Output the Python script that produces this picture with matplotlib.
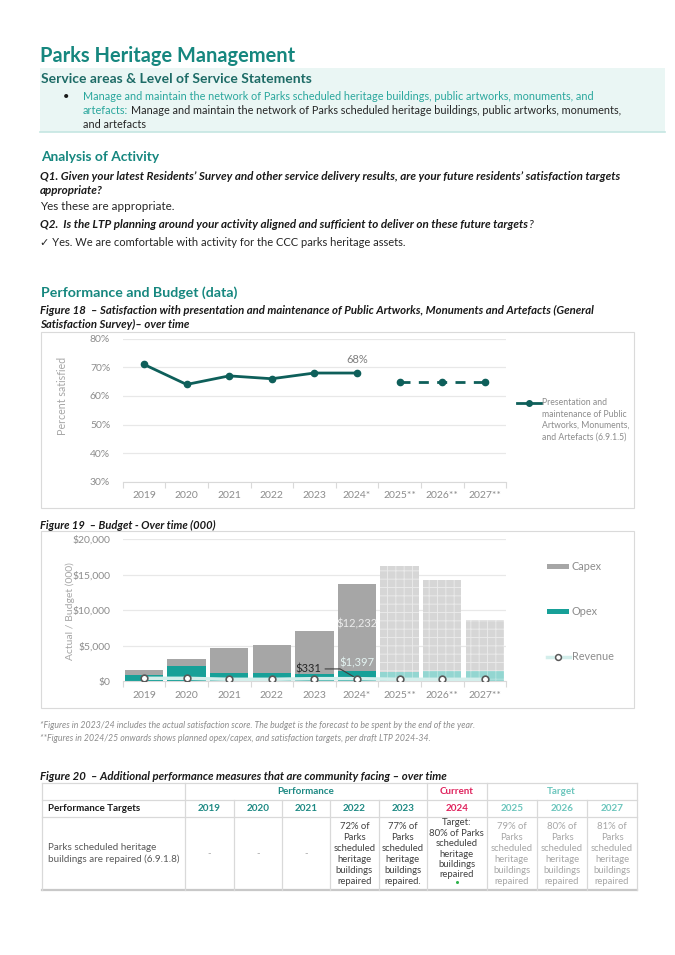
import matplotlib
matplotlib.use('Agg')
import matplotlib.pyplot as plt
from matplotlib.patches import Rectangle
from matplotlib.lines import Line2D

FONT = ['Lato', 'DejaVu Sans']
plt.rcParams['font.family'] = FONT
plt.rcParams['hatch.linewidth'] = 0.7

# ---------------- data ----------------
years = ['2019', '2020', '2021', '2022', '2023', '2024*', '2025**', '2026**', '2027**']
sat_actual = [71, 64, 67, 66, 68, 68]          # 2019 - 2024*
sat_target = [65, 65, 65]                      # 2025** - 2027**
sat_ticks = [30, 40, 50, 60, 70, 80]

capex = [650, 1000, 3450, 3870, 6050, 12232, 14900, 12850, 7240]
opex = [900, 2100, 1150, 1150, 950, 1397, 1310, 1370, 1350]
revenue = [380, 380, 240, 240, 330, 331, 240, 240, 240]
budget_ticks = [0, 5000, 10000, 15000, 20000]
n_actual = 6

tbl_years = ['2019', '2020', '2021', '2022', '2023', '2024', '2025', '2026', '2027']
tbl_values = ['-', '-', '-',
              '72% of\nParks\nscheduled\nheritage\nbuildings\nrepaired',
              '77% of\nParks\nscheduled\nheritage\nbuildings\nrepaired.',
              'Target:\n80% of Parks\nscheduled\nheritage\nbuildings\nrepaired',
              '79% of\nParks\nscheduled\nheritage\nbuildings\nrepaired',
              '80% of\nParks\nscheduled\nheritage\nbuildings\nrepaired',
              '81% of\nParks\nscheduled\nheritage\nbuildings\nrepaired']
tbl_measure = 'Parks scheduled heritage\nbuildings are repaired (6.9.1.8)'

# ---------------- page ----------------
W, H = 675, 955
fig = plt.figure(figsize=(6.75, 9.55), dpi=100)
page = fig.add_axes([0, 0, 1, 1])
page.set_xlim(0, W)
page.set_ylim(H, 0)
page.axis('off')
R = fig.canvas.get_renderer()

TEAL = '#16877f'
TEAL_D = '#1d6b66'
TEAL_L = '#2aa79d'
GRAY = '#8c8c8c'
DARK = '#1a1a1a'


def fit(x, y, s, w, rotation=0, **kw):
    t = page.text(x, y, s, fontsize=10, va='center', ha='left', **kw)
    bb = t.get_window_extent(R)
    t.set_fontsize(10 * w / bb.width)
    if rotation:
        t.set_rotation(rotation)
        t.set_ha('center')
    return t


def right_of(t):
    bb = t.get_window_extent(R)
    return bb.x1


def rect(x0, y0, x1, y1):
    return [x0 / W, 1 - y1 / H, (x1 - x0) / W, (y1 - y0) / H]


# title
fit(40, 56, 'Parks Heritage Management', 255, color=TEAL, fontweight='bold')

# service box
page.add_patch(Rectangle((40, 68), 625, 64, facecolor='#eaf6f4', edgecolor='none', zorder=0))
page.plot([40, 665], [132, 132], color='#c5e6e2', lw=1.2)
fit(41, 79, 'Service areas & Level of Service Statements', 272, color=TEAL_D, fontweight='bold')
page.text(66, 96, '\u2022', fontsize=8, va='center', ha='center', color=DARK)
t1 = fit(83, 96, 'Manage and maintain the network of Parks scheduled heritage buildings, public artworks, monuments, and',
         506, color=TEAL_L)
fs = t1.get_fontsize()
ta = page.text(83, 111, 'artefacts:', fontsize=fs, va='center', ha='left', color=TEAL_L)
page.text(right_of(ta) + 3, 111,
          'Manage and maintain the network of Parks scheduled heritage buildings, public artworks, monuments,',
          fontsize=fs, va='center', ha='left', color='#262626')
page.text(83, 125, 'and artefacts', fontsize=fs, va='center', ha='left', color='#262626')

# analysis
fit(41, 157, 'Analysis of Activity', 118, color=TEAL, fontweight='bold')
q1 = fit(40, 176, 'Q1. Given your latest Residents\u2019 Survey and other service delivery results, are your future residents\u2019 satisfaction targets',
         578, color=DARK, fontweight='bold', style='italic')
qfs = q1.get_fontsize()
page.text(40, 191, 'appropriate?', fontsize=qfs, va='center', ha='left', color=DARK, fontweight='bold', style='italic')
page.text(40, 206, 'Yes these are appropriate.', fontsize=qfs, va='center', ha='left', color='#262626')
q2 = page.text(40, 224, 'Q2.  Is the LTP planning around your activity aligned and sufficient to deliver on these future targets',
               fontsize=qfs, va='center', ha='left', color=DARK, fontweight='bold', style='italic')
page.text(right_of(q2) + 0.5, 224, '?', fontsize=qfs, va='center', ha='left', color=DARK, style='italic')
page.text(40, 242, '\u2713 Yes. We are comfortable with activity for the CCC parks heritage assets.',
          fontsize=qfs * 0.96, va='center', ha='left', color='#262626')

# performance and budget
fit(41, 293, 'Performance and Budget (data)', 197, color=TEAL, fontweight='bold')
c1 = fit(40, 310, 'Figure 18  \u2013 Satisfaction with presentation and maintenance of Public Artworks, Monuments and Artefacts (General',
         557, color=DARK, fontweight='bold', style='italic')
cfs = c1.get_fontsize()
page.text(40, 324, 'Satisfaction Survey)\u2013 over time', fontsize=cfs, va='center', ha='left', color=DARK,
          fontweight='bold', style='italic')

# frames
page.add_patch(Rectangle((40.5, 331.7), 593.8, 176, fill=False, edgecolor='#dadada', lw=0.8))
page.add_patch(Rectangle((40.5, 531), 593.8, 177, fill=False, edgecolor='#dadada', lw=0.8))

LINE_C = '#0e5f5a'
CAPEX_C = '#a6a6a6'
OPEX_C = '#17a098'
CAPEX_F = '#d6d6d6'
OPEX_F = '#93d6d1'

x0, x1 = 122.7, 506.1
TICK_FS = 7.5


def style_axis(ax, ticks, labels):
    ax.set_facecolor('none')
    for s in ['top', 'right', 'left']:
        ax.spines[s].set_visible(False)
    ax.spines['bottom'].set_color('#d9d9d9')
    ax.set_xlim(-0.5, len(years) - 0.5)
    ax.set_xticks(range(len(years)))
    ax.set_xticklabels(years)
    ax.set_xticks([i - 0.5 for i in range(len(years) + 1)], minor=True)
    ax.tick_params(axis='x', which='major', length=0, labelsize=TICK_FS, labelcolor=GRAY, pad=7)
    ax.tick_params(axis='x', which='minor', length=4, color='#d9d9d9', width=0.8)
    ax.set_yticks(ticks)
    ax.set_yticklabels(labels)
    ax.tick_params(axis='y', length=0, labelsize=TICK_FS, labelcolor=GRAY, pad=9)
    ax.grid(axis='y', color='#e8e8e8', lw=0.9)
    ax.set_axisbelow(True)


# ---- Figure 18: line chart ----
ax1 = fig.add_axes(rect(x0, 338.7, x1, 481.7))
ax1.set_ylim(30, 80)
style_axis(ax1, sat_ticks, ['%d%%' % v for v in sat_ticks])
ax1.plot(range(n_actual), sat_actual, color=LINE_C, lw=2, marker='o', ms=4.5, solid_capstyle='round')
ax1.plot(range(n_actual, len(years)), sat_target, color=LINE_C, lw=2, marker='o', ms=4.5,
         dashes=(3.6, 3.0))
ax1.annotate('%d%%' % sat_actual[-1], (n_actual - 1, sat_actual[-1]), xytext=(0, 10), textcoords='offset points',
             ha='center', va='center', fontsize=8, color='#7f7f7f')
fit(62, 396, 'Percent satisfied', 78, rotation=90, color='#a6a6a6')
# legend
page.add_line(Line2D([517, 541], [402.7, 402.7], color=LINE_C, lw=2))
page.plot([529], [402.7], marker='o', ms=4, color=LINE_C)
leg_lines = ['Presentation and', 'maintenance of Public', 'Artworks, Monuments,', 'and Artefacts (6.9.1.5)']
lt = fit(542, 414, leg_lines[1], 84, color=GRAY)
lfs = lt.get_fontsize()
for i, s in enumerate(leg_lines):
    if i != 1:
        page.text(542, 402.7 + i * 11.4, s, fontsize=lfs, va='center', ha='left', color=GRAY)

# ---- Figure 19: budget bars ----
fit(40, 525, 'Figure 19  \u2013 Budget - Over time (000)', 175, color=DARK, fontweight='bold', style='italic')
ax2 = fig.add_axes(rect(x0, 539.3, x1, 681))
ax2.set_ylim(0, 20000)
style_axis(ax2, budget_ticks, ['${:,}'.format(v) for v in budget_ticks])
xs = list(range(len(years)))
ob = ax2.bar(xs, opex, width=0.9, color=[OPEX_C if i < n_actual else OPEX_F for i in xs], lw=0, zorder=2)
cb = ax2.bar(xs, capex, bottom=opex, width=0.9, color=[CAPEX_C if i < n_actual else CAPEX_F for i in xs],
             lw=0, zorder=2)
for i in xs[n_actual:]:
    ob[i].set_hatch('++')
    ob[i].set_edgecolor('#b5e3df')
    ob[i].set_linewidth(0)
    cb[i].set_hatch('++')
    cb[i].set_edgecolor('#e9e9e9')
    cb[i].set_linewidth(0)
ax2.plot(xs, revenue, color='#d3eeeb', lw=2.5, marker='o', ms=4.8, mfc='white', mec='#595959', mew=1.2, zorder=5)
ax2.text(n_actual - 1, opex[n_actual - 1] + capex[n_actual - 1] / 2 + 600, '${:,}'.format(capex[n_actual - 1]),
         ha='center', va='center', fontsize=8, color='#ececec', zorder=6)
ax2.annotate('${:,}'.format(opex[n_actual - 1]), (n_actual - 1, opex[n_actual - 1]), xytext=(0, 2),
             textcoords='offset points', ha='center', va='bottom', fontsize=8, color='#e4f4f2', zorder=6)
ax2.annotate('${:,}'.format(revenue[n_actual - 1]), (n_actual - 1, revenue[n_actual - 1]), xytext=(-26, 7),
             textcoords='offset points', ha='right', va='center', fontsize=8, color='#262626', zorder=6,
             arrowprops=dict(arrowstyle='-', color='#404040', lw=0.8, shrinkA=1, shrinkB=3,
                             connectionstyle='angle,angleA=0,angleB=150,rad=0'))
fit(70, 611, 'Actual / Budget (000)', 98, rotation=90, color='#a6a6a6')
# legend
LEG_FS = 7.8
page.add_patch(Rectangle((547.3, 563.5), 21.4, 5, facecolor=CAPEX_C, edgecolor='none'))
page.text(572, 566, 'Capex', fontsize=LEG_FS, va='center', ha='left', color=GRAY)
page.add_patch(Rectangle((547.3, 609), 21.4, 5, facecolor=OPEX_C, edgecolor='none'))
page.text(572, 611.5, 'Opex', fontsize=LEG_FS, va='center', ha='left', color=GRAY)
page.add_line(Line2D([546.7, 570], [656.7, 656.7], color='#d3eeeb', lw=2.5))
page.plot([557.7], [656.7], marker='o', ms=4.2, mfc='white', mec='#595959', mew=1.1)
page.text(572, 656.7, 'Revenue', fontsize=LEG_FS, va='center', ha='left', color=GRAY)

# footnotes
f1 = fit(40, 725, '*Figures in 2023/24 includes the actual satisfaction score. The budget is the forecast to be spent by the end of the year.',
         433, color='#8c8c8c', style='italic')
page.text(40, 738, '**Figures in 2024/25 onwards shows planned opex/capex, and satisfaction targets, per draft LTP 2024-34.',
          fontsize=f1.get_fontsize(), va='center', ha='left', color='#8c8c8c', style='italic')

# ---- Figure 20: table ----
fit(40, 776, 'Figure 20  \u2013 Additional performance measures that are community facing \u2013 over time', 409,
    color=DARK, fontweight='bold', style='italic')
TL, TR = 41.7, 636.7
rows = [782.7, 800, 817.3, 890]
cols = [TL, 185.3, 234, 282.3, 330, 378.7, 426.7, 486.7, 536.7, 587.3, TR]
GC = '#d9d9d9'
for y in rows[:-1]:
    page.plot([TL, TR], [y, y], color=GC, lw=0.9)
page.plot([TL, TR], [rows[-1], rows[-1]], color='#c8c8c8', lw=1.6)
for x in cols:
    if x in (TL, TR, 185.3, 426.7, 486.7):
        page.plot([x, x], [rows[0], rows[-1]], color=GC, lw=0.9)
    else:
        page.plot([x, x], [rows[1], rows[-1]], color=GC, lw=0.9)

C_PERF = '#1e8a84'
C_CUR = '#e0245e'
C_TGT = '#6cc6bd'
HFS = 7.1
CFS = 6.8
page.text((185.3 + 426.7) / 2, 791.3, 'Performance', fontsize=HFS, fontweight='bold', color=C_PERF, ha='center', va='center')
page.text((426.7 + 486.7) / 2, 791.3, 'Current', fontsize=HFS, fontweight='bold', color=C_CUR, ha='center', va='center')
page.text((486.7 + TR) / 2, 791.3, 'Target', fontsize=HFS, fontweight='bold', color=C_TGT, ha='center', va='center')
page.text(48.3, 808.7, 'Performance Targets', fontsize=HFS, fontweight='bold', color=DARK, ha='left', va='center')
for i, yl in enumerate(tbl_years):
    c = C_PERF if i < 5 else (C_CUR if i == 5 else C_TGT)
    page.text((cols[i + 1] + cols[i + 2]) / 2, 808.7, yl, fontsize=HFS, fontweight='bold', color=c,
              ha='center', va='center')
page.text(48.3, 853.5, tbl_measure, fontsize=7.1, color='#595959', ha='left', va='center', linespacing=1.35)
for i, v in enumerate(tbl_values):
    cx = (cols[i + 1] + cols[i + 2]) / 2
    if v == '-':
        page.text(cx, 853.5, v, fontsize=CFS, color='#a6a6a6', ha='center', va='center')
    elif i == 5:
        page.text(cx, 848.8, v, fontsize=CFS, color='#404040', ha='center', va='center', linespacing=1.21)
        page.plot([cx], [881.7], marker='o', ms=2.2, color='#2db34a', mec='none')
    else:
        col = '#404040' if i < 5 else '#a6a6a6'
        page.text(cx, 854, v, fontsize=CFS, color=col, ha='center', va='center', linespacing=1.29)

fig.savefig('out.png', dpi=100)
